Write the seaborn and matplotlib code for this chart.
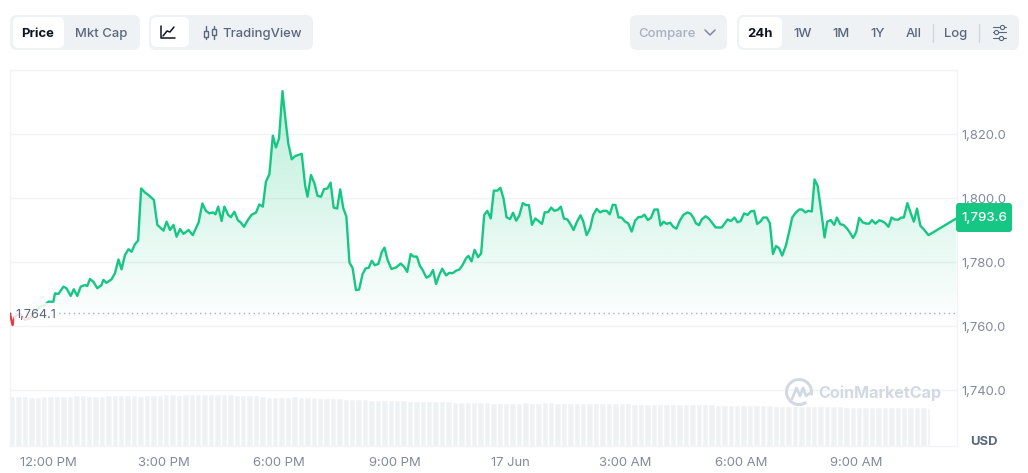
import numpy as np
import pandas as pd
import seaborn as sns
import matplotlib.pyplot as plt
from matplotlib.patches import FancyBboxPatch, Rectangle, Arc

# hours since 12:00 PM
price_hours = [-0.99, -0.92, -0.86, -0.73, -0.60, -0.47, -0.34, -0.21, -0.08, 0.01, 0.14, 0.18, 0.27, 0.40, 0.48, 0.59,
    0.67, 0.76, 0.85, 0.96, 1.02, 1.09, 1.18, 1.28, 1.39, 1.44, 1.52, 1.65, 1.74, 1.83, 1.91, 2.00, 2.09, 2.17, 2.26,
    2.34, 2.42, 2.52, 2.61, 2.75, 2.84, 3.00, 3.08, 3.17, 3.26, 3.34, 3.43, 3.52, 3.65, 3.76, 3.91, 4.01, 4.10, 4.19,
    4.28, 4.35, 4.42, 4.51, 4.58, 4.68, 4.75, 4.84, 4.93, 5.01, 5.09, 5.20, 5.29, 5.40, 5.49, 5.58, 5.66, 5.75, 5.84,
    5.92, 6.00, 6.09, 6.16, 6.24, 6.33, 6.42, 6.59, 6.68, 6.74, 6.83, 6.92, 7.00, 7.09, 7.17, 7.26, 7.34, 7.42, 7.51,
    7.59, 7.67, 7.75, 7.83, 7.91, 8.00, 8.08, 8.17, 8.25, 8.33, 8.41, 8.49, 8.58, 8.62, 8.67, 8.74, 8.82, 8.92, 9.04,
    9.16, 9.25, 9.33, 9.42, 9.49, 9.58, 9.66, 9.73, 9.83, 9.92, 10.00, 10.08, 10.16, 10.24, 10.34, 10.42, 10.51, 10.60,
    10.68, 10.77, 10.86, 10.92, 11.00, 11.08, 11.17, 11.25, 11.33, 11.41, 11.50, 11.58, 11.67, 11.75, 11.83, 11.91,
    12.00, 12.08, 12.16, 12.24, 12.33, 12.41, 12.49, 12.57, 12.66, 12.74, 12.83, 12.90, 12.99, 13.07, 13.15, 13.24,
    13.32, 13.40, 13.49, 13.58, 13.65, 13.74, 13.83, 13.90, 13.99, 14.08, 14.16, 14.25, 14.34, 14.42, 14.51, 14.59,
    14.67, 14.74, 14.82, 14.90, 14.99, 15.07, 15.16, 15.25, 15.33, 15.42, 15.49, 15.58, 15.66, 15.75, 15.84, 15.91,
    15.99, 16.07, 16.16, 16.24, 16.32, 16.41, 16.50, 16.61, 16.69, 16.76, 16.83, 16.91, 16.98, 17.08, 17.17, 17.26,
    17.34, 17.50, 17.58, 17.65, 17.74, 17.83, 17.91, 17.99, 18.08, 18.17, 18.25, 18.34, 18.42, 18.50, 18.58, 18.67,
    18.75, 18.83, 18.91, 18.99, 19.07, 19.17, 19.26, 19.33, 19.42, 19.51, 19.59, 19.67, 19.75, 19.84, 19.91, 19.99,
    20.09, 20.17, 20.24, 20.33, 20.42, 20.49, 20.58, 20.66, 20.75, 20.83, 20.91, 20.99, 21.07, 21.16, 21.25, 21.33,
    21.40, 21.49, 21.59, 21.66, 21.75, 21.83, 21.91, 21.99, 22.08, 22.16, 22.23, 22.32, 22.41, 22.49, 22.57, 22.66,
    22.74, 22.87, 23.59]
prices = [1764.0, 1760.3, 1762.9, 1764.0, 1761.9, 1762.4, 1764.5, 1766.0, 1766.6, 1767.6, 1767.6, 1770.2, 1770.0, 1772.3,
    1771.8, 1769.4, 1771.5, 1769.4, 1772.3, 1772.8, 1772.5, 1774.7, 1773.8, 1771.8, 1772.8, 1774.4, 1773.5, 1774.6,
    1776.5, 1780.8, 1777.7, 1782.2, 1784.0, 1783.2, 1785.6, 1786.7, 1803.0, 1801.7, 1800.9, 1799.4, 1791.6, 1789.8,
    1792.6, 1790.0, 1791.6, 1787.9, 1790.3, 1788.8, 1790.0, 1788.4, 1792.3, 1798.3, 1796.0, 1795.2, 1795.5, 1794.9,
    1797.3, 1792.8, 1797.3, 1794.7, 1794.0, 1795.7, 1793.1, 1792.3, 1791.0, 1793.3, 1794.8, 1795.4, 1798.0, 1797.3,
    1805.1, 1807.4, 1819.5, 1815.8, 1818.6, 1833.4, 1825.4, 1817.1, 1812.1, 1813.1, 1813.8, 1803.8, 1800.4, 1807.2,
    1804.6, 1800.7, 1800.4, 1802.8, 1803.0, 1804.8, 1797.0, 1796.7, 1802.7, 1796.8, 1794.2, 1779.8, 1778.2, 1771.2,
    1771.4, 1776.2, 1778.0, 1778.2, 1780.4, 1779.0, 1779.4, 1781.0, 1783.2, 1784.5, 1780.6, 1777.8, 1778.3, 1779.5,
    1778.5, 1776.9, 1782.5, 1781.7, 1781.7, 1778.8, 1777.5, 1775.1, 1775.7, 1777.5, 1773.1, 1775.9, 1777.9, 1775.8,
    1776.6, 1776.5, 1777.3, 1777.6, 1779.1, 1781.2, 1781.9, 1780.2, 1783.8, 1781.5, 1782.7, 1794.7, 1796.0, 1793.6,
    1802.3, 1802.3, 1803.2, 1799.9, 1794.0, 1793.4, 1795.4, 1792.9, 1794.5, 1798.4, 1797.8, 1797.8, 1791.6, 1793.6,
    1792.8, 1791.9, 1795.5, 1795.6, 1797.0, 1796.0, 1796.3, 1797.3, 1793.6, 1793.3, 1791.6, 1790.0, 1792.6, 1794.6,
    1792.8, 1788.4, 1790.5, 1794.7, 1796.6, 1795.5, 1796.0, 1796.0, 1794.9, 1797.9, 1797.8, 1793.9, 1793.9, 1792.6,
    1792.1, 1789.5, 1792.9, 1794.0, 1794.1, 1794.8, 1793.1, 1793.8, 1796.4, 1796.4, 1791.4, 1792.6, 1791.9, 1792.3,
    1791.0, 1790.4, 1792.9, 1794.7, 1795.5, 1795.1, 1793.9, 1792.1, 1791.5, 1793.3, 1794.3, 1793.5, 1792.1, 1790.8,
    1790.8, 1792.1, 1793.3, 1792.8, 1793.9, 1792.4, 1792.8, 1795.2, 1794.7, 1795.8, 1796.0, 1791.9, 1792.6, 1793.9,
    1793.9, 1792.1, 1782.5, 1785.0, 1784.3, 1782.0, 1785.3, 1790.0, 1793.9, 1795.4, 1796.4, 1796.4, 1795.5, 1796.0,
    1795.8, 1805.8, 1803.8, 1795.2, 1787.7, 1792.6, 1793.1, 1791.6, 1793.9, 1791.8, 1791.6, 1790.5, 1789.2, 1787.5,
    1789.3, 1793.8, 1792.4, 1792.0, 1792.0, 1793.1, 1792.0, 1793.0, 1792.8, 1792.1, 1791.0, 1793.9, 1793.3, 1793.2,
    1793.9, 1793.9, 1798.4, 1795.2, 1792.6, 1796.7, 1791.3, 1790.3, 1788.4, 1793.6]

# 24h volume, one bar per 10 minutes
volumes = [10.0, 10.0, 10.0, 9.9, 9.8, 10.0, 10.0, 10.0, 10.0, 10.0,
    10.2, 10.2, 10.1, 10.0, 10.0, 10.2, 10.2, 10.2, 10.2, 10.2,
    10.1, 10.2, 10.2, 10.3, 10.4, 10.4, 10.3, 10.4, 10.4, 10.5,
    10.5, 10.5, 10.5, 10.4, 10.5, 10.3, 10.2, 10.2, 10.2, 10.0,
    9.9, 9.9, 9.9, 9.9, 10.0, 9.8, 9.8, 9.8, 9.7, 9.7,
    9.6, 9.6, 9.5, 9.5, 9.4, 9.4, 9.3, 9.3, 9.3, 9.3,
    9.2, 9.2, 9.1, 9.1, 9.1, 9.0, 9.0, 9.0, 9.0, 8.9,
    8.9, 8.9, 8.8, 8.8, 8.8, 8.7, 8.7, 8.7, 8.7, 8.7,
    8.8, 8.7, 8.7, 8.8, 8.8, 8.7, 8.7, 8.7, 8.7, 8.7,
    8.7, 8.6, 8.6, 8.6, 8.6, 8.6, 8.6, 8.5, 8.5, 8.5,
    8.5, 8.5, 8.5, 8.4, 8.4, 8.4, 8.4, 8.4, 8.4, 8.4,
    8.3, 8.3, 8.3, 8.3, 8.3, 8.2, 8.2, 8.2, 8.2, 8.1,
    8.1, 8.0, 8.1, 8.1, 8.1, 8.0, 8.1, 8.0, 8.0, 8.0,
    7.9, 7.9, 7.9, 7.9, 7.9, 7.9, 7.9, 7.9, 7.9, 7.9,
    7.8, 7.8, 7.8]
tail_hours = [22.87, 23.55]
tail_volumes = [7.7, 7.4]

y_ticks = [1740, 1760, 1780, 1800, 1820]
x_ticks = [0, 3, 6, 9, 12, 15, 18, 21]
x_tick_labels = ['12:00 PM', '3:00 PM', '6:00 PM', '9:00 PM', '17 Jun', '3:00 AM', '6:00 AM', '9:00 AM']
open_price = 1764.1
last_price = 1793.6

GREEN = '#16c784'
RED = '#ea3943'
GRID = '#f1f3f6'
MUTED = '#808a9d'
SLATE = '#58667e'
DARK = '#0d1421'
PILL = '#eff2f5'

sns.set_theme(style='white')
plt.rcParams['font.family'] = ['Inter', 'DejaVu Sans']

W, H = 1028, 473
fig = plt.figure(figsize=(W / 100, H / 100), dpi=100)
rect = [10 / W, (H - 446) / H, 947 / W, 376 / H]
xlim = (-0.987, 23.61)
ylim = (1722.5, 1840)

# volume underneath
ax_vol = fig.add_axes(rect, zorder=1)
vol_df = pd.DataFrame({'hour': -0.93 + np.arange(len(volumes)) / 6, 'volume': volumes})
sns.barplot(data=vol_df, x='hour', y='volume', native_scale=True, color=PILL, saturation=1, width=1.0, ax=ax_vol)
ax_vol.bar(tail_hours, tail_volumes, width=[0.08, 0.04], color=PILL)
ax_vol.set_xlim(xlim)
ax_vol.set_ylim(0, 75.2)
ax_vol.axis('off')

ax = fig.add_axes(rect, zorder=2)
ax.patch.set_alpha(0)
price_df = pd.DataFrame({'hour': price_hours, 'price': prices})

# gradient area under the line
poly_x = price_hours[8:] + [price_hours[-1], price_hours[8]]
poly_y = prices[8:] + [ylim[0], ylim[0]]
area = ax.fill(poly_x, poly_y, color='none', lw=0)[0]
alpha = np.clip(np.linspace(0.31, 0, 200), 0, 1)
grad = np.zeros((200, 1, 4))
grad[..., 0], grad[..., 1], grad[..., 2] = 0x16 / 255, 0xc7 / 255, 0x84 / 255
grad[:, 0, 3] = alpha
img = ax.imshow(grad, extent=(xlim[0], xlim[1], 1760, 1836), origin='upper', aspect='auto', zorder=1.5)
img.set_clip_path(area)

sns.lineplot(data=price_df, x='hour', y='price', color=GREEN, lw=1.7, ax=ax, zorder=3, errorbar=None, sort=False)
sns.lineplot(data=price_df, x='hour', y='price', color=RED, lw=1.7, ax=ax, zorder=3, errorbar=None, sort=False)
green_line, red_line = ax.lines[0], ax.lines[1]
green_line.set_clip_path(Rectangle((xlim[0], open_price), 30, 200, transform=ax.transData))
red_line.set_clip_path(Rectangle((xlim[0], 1700), 30, open_price - 1700, transform=ax.transData))

ax.axhline(open_price, color='#a6b0c3', lw=1, ls=(0, (1, 2.5)), zorder=2)

ax.set_xlim(xlim)
ax.set_ylim(ylim)
ax.set_xlabel('')
ax.set_ylabel('')
ax.set_yticks(y_ticks)
ax.set_yticklabels([f'{v:,.1f}' for v in y_ticks])
ax.yaxis.tick_right()
ax.set_xticks(x_ticks)
ax.set_xticklabels(x_tick_labels)
ax.tick_params(axis='both', length=0, labelsize=9.4, labelcolor=MUTED)
ax.tick_params(axis='y', pad=3.5)
ax.tick_params(axis='x', pad=8)
ax.grid(axis='y', color=GRID, lw=1)
ax.set_axisbelow(True)
for s in ax.spines.values():
    s.set_color(GRID)
    s.set_linewidth(1)

# overlay in pixel coordinates for the toolbar, tags and watermark
ov = fig.add_axes([0, 0, 1, 1], zorder=5)
ov.set_xlim(0, W)
ov.set_ylim(H, 0)
ov.axis('off')


def pill(x0, y0, x1, y1, color, r=7, **kw):
    ov.add_patch(FancyBboxPatch((x0 + r, y0 + r), x1 - x0 - 2 * r, y1 - y0 - 2 * r,
                                boxstyle=f'round,pad={r},rounding_size={r}', fc=color, ec='none', **kw))


def label(x, s, color=SLATE, size=9.4, weight='medium', **kw):
    ov.text(x, 37, s, color=color, fontsize=size, fontweight=weight, ha='center', va='baseline', **kw)


pill(10, 15, 140, 50, PILL)
pill(13, 17, 64, 48, 'white', r=6)
label(38, 'Price', DARK, weight='bold')
label(101, 'Mkt Cap')

pill(149, 15, 313, 50, PILL)
pill(151, 17, 189, 47, 'white', r=6)
ov.plot([161, 161, 175], [26, 38, 38], color=DARK, lw=1.1, solid_capstyle='round')
ov.plot([163, 167, 170, 174], [36, 31, 32, 27], color=DARK, lw=1.1, solid_capstyle='round')
for cx in (206, 214):
    ov.plot([cx, cx], [26, 39], color=SLATE, lw=1)
ov.add_patch(Rectangle((204, 31), 4, 6, fc=PILL, ec=SLATE, lw=1, zorder=3))
ov.add_patch(Rectangle((212, 29), 4, 6, fc=PILL, ec=SLATE, lw=1, zorder=3))
label(262, 'TradingView')

pill(630, 15, 727, 50, PILL)
label(667, 'Compare', '#a6b0c3')
ov.plot([705, 710, 715], [30, 35, 30], color=MUTED, lw=1.1)

pill(737, 15, 1019, 50, PILL)
pill(739, 17, 782, 48, 'white', r=6)
label(760, '24h', DARK, weight='bold')
for tx, s in zip([802.5, 841, 877.5, 914, 956], ['1W', '1M', '1Y', 'All', 'Log']):
    label(tx, s)
for sx in (933, 979):
    ov.plot([sx, sx], [24, 42], color='#cfd6e4', lw=1)
for ly, kx in zip([27, 32.5, 38], [1002, 996, 1001]):
    ov.plot([993, 1006], [ly, ly], color=SLATE, lw=0.8)
    ov.plot([kx], [ly], 'o', ms=3, mfc=PILL, mec=SLATE, mew=0.8)

# opening price label over the start of the line
ov.add_patch(Rectangle((14, 303), 43, 21, fc='white', ec='none', alpha=0.85))
ov.text(35.5, 314.5, '1,764.1', color=SLATE, fontsize=9.2, ha='center', va='center')

# last price tag
pill(956, 203, 1012, 232, GREEN, r=3)
ov.text(984, 218, f'{last_price:,.1f}', color='white', fontsize=9.6, ha='center', va='center', fontweight='medium')

ov.text(984, 442, 'USD', color=SLATE, fontsize=9.4, fontweight='bold', ha='center', va='center')

# watermark
WM = '#d3d9e4'
ov.add_patch(Arc((799, 392), 25, 25, theta1=55, theta2=15, color=WM, lw=2.2))
ov.plot([792, 796.5, 800, 803, 806, 810], [399, 388, 396, 388, 396, 393], color=WM, lw=2.0)
ov.text(879.5, 393.5, 'CoinMarketCap', color=WM, fontsize=11.6, fontweight='bold', ha='center', va='center')

fig.savefig('out.png', dpi=100)
